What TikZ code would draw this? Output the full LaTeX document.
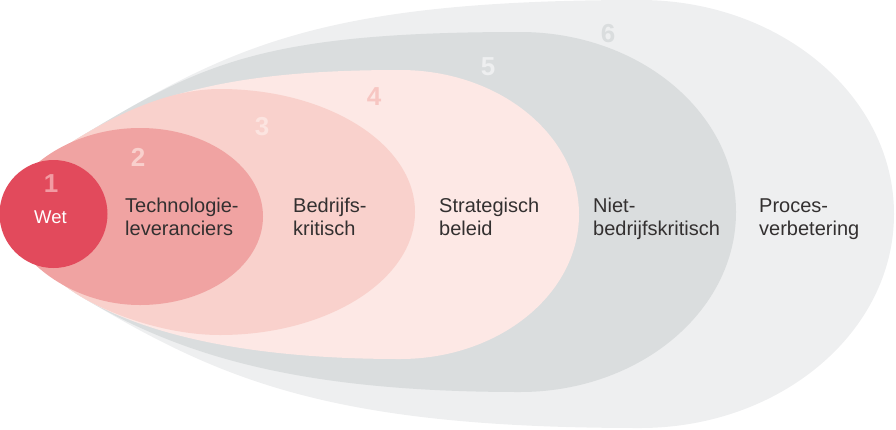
\documentclass[tikz,border=0pt]{standalone}
\usepackage{fontspec}
\setmainfont{Liberation Sans}
\definecolor{cA}{HTML}{E24A5C}
\definecolor{cB}{HTML}{F0A3A2}
\definecolor{cC}{HTML}{F9D1CC}
\definecolor{cD}{HTML}{FDE8E5}
\definecolor{cE}{HTML}{DADDDE}
\definecolor{cF}{HTML}{EEEFF0}
\definecolor{nA}{HTML}{F29BA3}
\definecolor{nB}{HTML}{F9D0CD}
\definecolor{nC}{HTML}{FCE4E0}
\definecolor{nD}{HTML}{F7C6C2}
\definecolor{nE}{HTML}{EEEFF0}
\definecolor{nF}{HTML}{DADDDE}
\definecolor{txt}{HTML}{333030}
\begin{document}
\begin{tikzpicture}[x=1pt,y=-1pt,
  lbl/.style={font=\fontsize{20}{23}\selectfont, text=txt, align=left, inner sep=0pt, anchor=base west},
  num/.style={font=\fontsize{26}{26}\selectfont\bfseries, inner sep=0pt}]
\useasboundingbox (0,0) rectangle (896,429);
% shape 6
\fill[cF] (6,214) .. controls (14,185) and (50,155) .. (80,137)
  .. controls (230,47) and (320,0) .. (640,0)
  .. controls (780.3,0) and (894,95.8) .. (894,214)
  .. controls (894,332.2) and (780.3,428) .. (640,428)
  .. controls (330,428) and (220,380) .. (80,296)
  .. controls (50,278) and (14,243) .. (6,214) -- cycle;
% shape 5
\fill[cE] (6,214) .. controls (14,185) and (50,155) .. (80,137)
  .. controls (200,65) and (260,32) .. (520,32)
  .. controls (639.3,32) and (736,112.6) .. (736,212)
  .. controls (736,311.4) and (639.3,392) .. (520,392)
  .. controls (300,392) and (180,356) .. (80,296)
  .. controls (50,278) and (14,243) .. (6,214) -- cycle;
% shape 4
\fill[cD] (6,214) .. controls (14,185) and (50,155) .. (80,137)
  .. controls (160,89) and (250,70) .. (400,70)
  .. controls (498.9,70) and (579,134.7) .. (579,214.5)
  .. controls (579,294.3) and (498.9,359) .. (400,359)
  .. controls (240,359) and (140,332) .. (80,296)
  .. controls (50,278) and (14,243) .. (6,214) -- cycle;
% shape 3
\fill[cC] (6,214) .. controls (14,185) and (50,155) .. (80,137)
  .. controls (120,113) and (170,89) .. (220,89)
  .. controls (327.7,89) and (415,144.1) .. (415,212)
  .. controls (415,279.9) and (327.7,335) .. (220,335)
  .. controls (170,335) and (115,317) .. (80,296)
  .. controls (50,278) and (14,243) .. (6,214) -- cycle;
% shape 2
\fill[cB] (6,214) .. controls (12,170) and (70,128) .. (140,128)
  .. controls (207.9,128) and (263,167.6) .. (263,216.5)
  .. controls (263,265.4) and (207.9,305) .. (140,305)
  .. controls (70,305) and (12,258) .. (6,214) -- cycle;
% shape 1
\fill[cA] (53.5,214) circle[radius=54];
% numbers
\node[num, text=nA] (n1) at (51,184) {1};
\node[num, text=nB] (n2) at (138,157.5) {2};
\node[num, text=nC] (n3) at (262,127) {3};
\node[num, text=nD] (n4) at (374,97) {4};
\node[num, text=nE] (n5) at (488,67) {5};
\node[num, text=nF] (n6) at (608,34) {6};
% labels
\node[font=\fontsize{18.5}{18.5}\selectfont, text=white, inner sep=0pt, anchor=base] (wet) at (50.5,223) {Wet};
\node[lbl] (l2) at (125,235) {Technologie-\\leveranciers};
\node[lbl] (l3) at (293,235) {Bedrijfs-\\kritisch};
\node[lbl] (l4) at (439,235) {Strategisch\\beleid};
\node[lbl] (l5) at (593,235) {Niet-\\bedrijfskritisch};
\node[lbl] (l6) at (759,235) {Proces-\\verbetering};
\end{tikzpicture}
\end{document}
